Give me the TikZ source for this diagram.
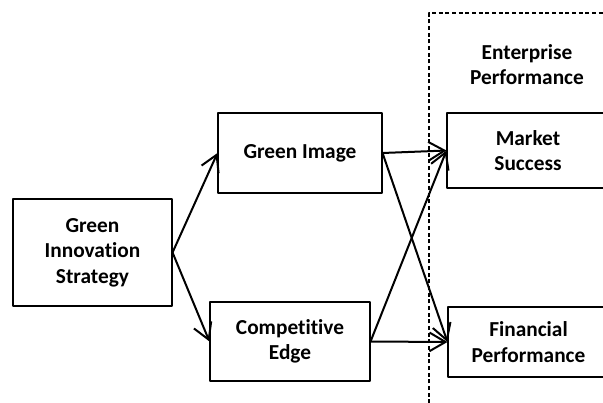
\documentclass[tikz,border=0pt]{standalone}
\usepackage{fontspec}
\setmainfont{Carlito}[Ligatures=NoCommon]
\usetikzlibrary{arrows.meta}
\usetikzlibrary{positioning}

\tikzset{box/.style={draw, line width=0.8pt, align=center, inner sep=0pt, font=\bfseries\fontsize{16}{19}\selectfont}}
\tikzset{link/.style={->, line width=1.5pt}}

\begin{document}
\begin{tikzpicture}[line cap=round,line join=round,>={Straight Barb[length=12pt,width=14pt]},x=0.75pt,y=-0.75pt]
\useasboundingbox (0,0) rectangle (603,403);
\clip(0,0) rectangle (603,403);
% frame of enterprise performance
\draw[dash pattern=on 3pt off 2pt, line width=0.8pt, line cap=butt] (429,410) -- (429,13) -- (620,13);
\node[font=\bfseries\fontsize{16}{19}\selectfont, align=center] (perf) at (527,64.5) {Enterprise\\Performance};
\node[box, minimum width=119.25pt, minimum height=80.25pt] (gis) at (92.5,252.5) {Green\\Innovation\\Strategy};
\node[box, minimum width=123pt, minimum height=60pt] (image) at (300,153) {Green Image};
\node[box, minimum width=120pt, minimum height=59.25pt] (edge) at (290,341.5) {Competitive\\Edge};
\node[box, minimum width=121.5pt, minimum height=56.25pt] (market) at (528,150.5) {Market\\Success};
\node[box, minimum width=120.75pt, minimum height=52.5pt] (finance) at (528.5,342) {Financial\\Performance};
\draw[link] (gis.east) -- (image.west);
\draw[link] (gis.east) -- (edge.west);
\draw[link] (image.east) -- (market.west);
\draw[link] (image.east) -- (finance.west);
\draw[link] (edge.east) -- (market.west);
\draw[link] (edge.east) -- (finance.west);
\end{tikzpicture}
\end{document}
